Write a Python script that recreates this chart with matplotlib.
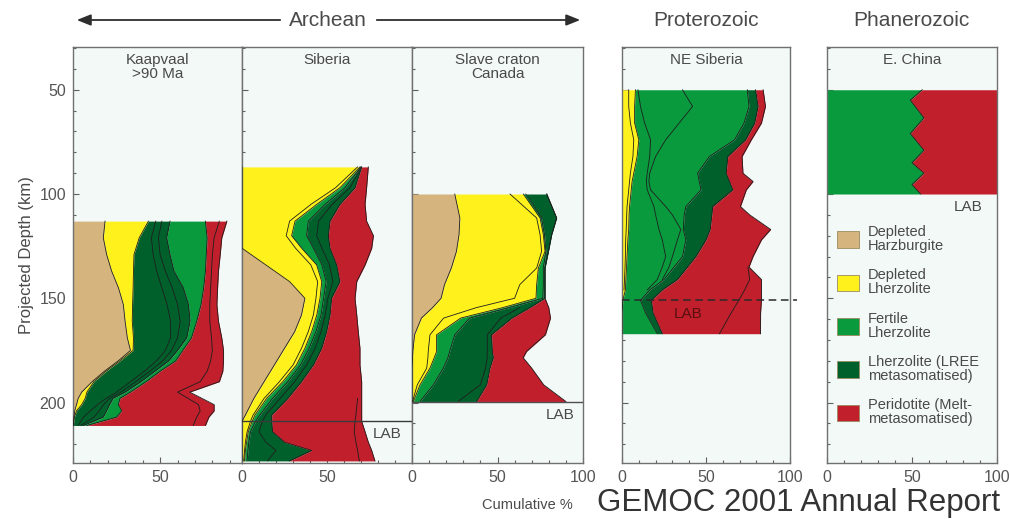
# %% importing modules
import numpy as np
import matplotlib.pyplot as plt
from matplotlib.patches import Patch, FancyArrowPatch
from matplotlib.ticker import MultipleLocator

plt.rcParams['font.family'] = ['Liberation Sans', 'DejaVu Sans']

# %% colours
c_harz = '#d5b57d'
c_dlhz = '#fff21c'
c_fert = '#0a9a3e'
c_lree = '#00602c'
c_melt = '#c01f2b'
c_face = '#f2f9f7'
c_ink = '#4a4a4a'
c_edge = '#1e1e1e'
nan = np.nan

# %% Kaapvaal >90 Ma (cumulative %, left to right: harz, dep. lherz, LREE, fertile, melt)
kv_depth = [113, 121, 129, 137, 145, 153, 161, 169, 175, 180, 185, 190, 195, 198, 201, 204, 207, 211]
kv_harz = [18.4, 17.4, 19.3, 22.2, 26.1, 28.9, 29.9, 31.2, 33, 26, 18, 11, 5, 3, 2, 1, 0.5, 0]
kv_dlhz = [43.3, 38, 35, 34.7, 34.5, 34.2, 34, 34.7, 34.5, 27, 19, 12, 8, 7, 5, 2, 0.8, 0.2]
kv_lree = [55.7, 53.8, 55.7, 58, 63.4, 66.3, 67.2, 65.3, 60, 55, 47, 39, 30, 23, 21, 19.3, 17.4, 6]
kv_fert = [76, 77, 76.5, 76, 75, 73.5, 71, 68, 63, 59, 50, 42, 33, 27, 26, 28, 25, 8]
kv_melt = [88.3, 85.4, 84.5, 83.5, 83, 82.6, 83.5, 85.4, 86.4, 86.4, 86, 84, 67, 74, 81, 81, 78, 76]
kv_lines = [
    [47.5, 45, 46, 48, 51, 54, 56, 56, 53, 48, 41, 33, 25, 19, 14, 10, 6, 3],
    [51, 49, 50, 53, 57, 60, 61.5, 60, 56.5, 51.5, 44, 36, 27.5, 21, 17.5, 15, 12, 4.5],
    [84, 81, 80, 79.5, 79, 78.5, 78.5, 79.5, 80, 79, 77, 73, 60, 66, 72, 73, 71, 69],
]

# %% Siberia (harz, dep. lherz, fertile, LREE, melt)
sb_depth = [87, 97, 105, 113, 120, 126, 134, 142, 150, 158, 166, 174, 182, 190, 198, 206, 209, 214, 219, 223, 228]
sb_harz = [0, 0, 0, 0, 0, 0, 14, 28, 37, 35, 31, 25, 19, 13, 7, 2, 0, 0, 0, 0, 0]
sb_dlhz = [69.4, 57.6, 43.9, 31.2, 29.2, 35.1, 43.9, 46.9, 45.9, 44, 41, 37, 32, 24, 14.5, 7.6, 6, 3.7, 2.7, 2, 1.5]
sb_fert = [70, 60.6, 48.8, 39, 38, 42, 47, 49.5, 48, 46.5, 43.5, 39.5, 34.5, 27, 18, 10.5, 8, 5, 4, 3.5, 3]
sb_lree = [70.4, 66.5, 57.6, 51.8, 50.8, 51.8, 55.7, 57.6, 52.7, 51.8, 49.8, 46.9, 42, 35, 27, 17.5, 17.5, 18, 25, 41, 28]
sb_melt = [74.3, 73.3, 72.4, 73.3, 77.3, 76.3, 72.4, 67.5, 66.5, 67.5, 68.4, 69.4, 69.4, 70.4, 70.4, 70.4, 70.4, 72.4, 74.3, 76.3, 78.2]
sb_lines = [
    [68, 55, 40.5, 28, 26, 31.5, 40.5, 44.5, 43.5, 42, 39, 35, 30, 22, 13, 6.5, 5, 3, 2, 1.5, 1],
    [70.2, 63.5, 53, 45, 44, 47, 51.5, 53.5, 50.5, 49, 46.5, 43, 38, 31, 22.5, 14, 12, 10, 14, 20, 15],
    [nan] * 14 + [68, 67, 66.5, 66, 67, 68, 69],
]
sb_lab = 209

# %% Slave craton, Canada (harz, dep. lherz, fertile, LREE, melt)
sl_depth = [100, 111.5, 119.5, 127.5, 135.5, 143.5, 150, 154.5, 159.5, 167.5, 175.5, 178.5, 183.5, 191.5, 199.5]
sl_harz = [25, 28, 27.5, 26, 23, 19, 17, 12, 5.5, 1.5, 0.5, 0.3, 0, 0, 0]
sl_dlhz = [65.1, 74.9, 76.8, 77.8, 73.9, 72.9, 72.5, 53, 28.5, 14.4, 14.4, 13, 10.5, 4.7, 0.8]
sl_fert = [66.5, 75.8, 77.5, 78.3, 76.8, 76.8, 76.5, 56.7, 33.7, 25, 22, 21, 18.3, 12.5, 4.7]
sl_lree = [78.8, 84.6, 81.7, 79.8, 77.8, 77.8, 77.8, 69, 58.5, 46.5, 47, 47.6, 45.6, 43.7, 37.8]
sl_melt = [78.8, 84.6, 81.7, 79.8, 77.8, 77.8, 77.8, 80, 81, 78, 67, 65, 70, 77, 90]
sl_lines = [
    [57.3, 72.9, 74.9, 75.8, 72.9, 63, 60, 37.6, 18.5, 10.5, 9.5, 9.3, 8.6, 3.1, 0.3],
    [nan] * 7 + [63, 52, 44, 44, 44, 43, 40, 27],
]
sl_lab = 199.6

# %% NE Siberia, Proterozoic (dep. lherz, fertile, LREE, melt)
ne_depth = [50, 58, 66, 74, 82, 90, 94, 98, 106, 110, 117, 122, 130, 135, 141, 146, 151, 157, 167]
ne_dlhz = [8, 7.5, 7.5, 10, 9, 7, 6, 5.5, 4.5, 4.2, 4, 3.5, 3, 2.7, 2.3, 2, 0.5, 0, 0]
ne_fert = [74.6, 75.6, 72.6, 67, 52, 45, 46, 47, 38, 37, 36.5, 38, 36, 31, 25, 16.5, 11, 14, 21]
ne_lree = [79.5, 81, 79, 73.6, 63, 62, 64, 66, 54, 53.5, 52.5, 50, 44, 39, 33, 24, 17.5, 18.5, 24]
ne_melt = [84, 85.4, 83, 77, 71.5, 72, 78, 74, 70.5, 76, 88.5, 83, 78, 75.6, 83, 83, 83, 82.5, 82.4]
ne_lines = [
    [36, 42, 34, 26, 20, 16.5, 16, 17, 26, 30, 35, 33, 30, 28, 24, nan, nan, nan, nan],
    [9.5, 11, 13.5, 17, 16.5, 15, 14.5, 15, 19, 20, 22, 24, 26, 24, 21, 15, nan, nan, nan],
    [4, 4, 5, 7, 6.5, 5, 4.5, 4, 3, 2.8, 2.5, 2.2, 2, 1.8, 1.5, 1.2, nan, nan, nan],
    [nan] * 13 + [75, 76, 73, 69.5, 65, 58],
]
ne_lab = 150.7

# %% E. China, Phanerozoic (fertile, melt)
ch_depth = [50, 55, 63.5, 71, 79, 85, 90, 95.5, 100]
ch_fert = [56, 49, 57, 49, 57, 50, 57, 50, 55]
ch_melt = [100, 100, 100, 100, 100, 100, 100, 100, 100]

legend_labels = ['Depleted\nHarzburgite', 'Depleted\nLherzolite', 'Fertile\nLherzolite',
                 'Lherzolite (LREE\nmetasomatised)', 'Peridotite (Melt-\nmetasomatised)']

# %% figure
W, H = 1010, 519
fig = plt.figure(figsize=(W / 100, H / 100), dpi=100)


def fx(px):
    return px / W


def fy(py):
    return 1 - py / H


def add_panel(x0, x1, xmax, title, xlabels, ylabels=False):
    ax = fig.add_axes([fx(x0), fy(463), (x1 - x0) / W, 416 / H])
    ax.set_xlim(0, xmax)
    ax.set_ylim(229, 29.5)
    ax.set_facecolor(c_face)
    for s in ax.spines.values():
        s.set_color('#707070')
        s.set_linewidth(1)
    ax.set_xticks([0, 50, 100][:len(xlabels)], xlabels)
    ax.xaxis.set_minor_locator(MultipleLocator(10))
    ax.yaxis.set_major_locator(MultipleLocator(50))
    ax.yaxis.set_minor_locator(MultipleLocator(10))
    ax.tick_params(which='both', direction='in', color='#606060', labelcolor='#555555',
                   labelsize=11.5, width=0.8, pad=5)
    ax.tick_params(which='major', length=4)
    ax.tick_params(which='minor', length=2.5)
    if not ylabels:
        ax.tick_params(axis='y', labelleft=False)
    ax.text(0.5, 0.985, title, transform=ax.transAxes, ha='center', va='top',
            fontsize=11, color=c_ink, linespacing=0.95)
    return ax


def draw_column(ax, depth, layers, lines):
    left = np.zeros(len(depth))
    for colour, right in layers:
        right = np.asarray(right, float)
        ax.fill_betweenx(depth, left, right, color=colour, lw=0, zorder=2)
        left = right
    for right in [r for _, r in layers] + lines:
        ax.plot(right, depth, color=c_edge, lw=0.6, zorder=3)


ax1 = add_panel(73, 242, 97, 'Kaapvaal\n>90 Ma', ['0', '50'], ylabels=True)
ax1.set_ylabel('Projected Depth (km)', fontsize=12, color=c_ink, labelpad=4)
draw_column(ax1, kv_depth, [(c_harz, kv_harz), (c_dlhz, kv_dlhz), (c_lree, kv_lree),
                            (c_fert, kv_fert), (c_melt, kv_melt)], kv_lines)

ax2 = add_panel(242, 412, 100, 'Siberia', ['0', '50'])
draw_column(ax2, sb_depth, [(c_harz, sb_harz), (c_dlhz, sb_dlhz), (c_fert, sb_fert),
                            (c_lree, sb_lree), (c_melt, sb_melt)], sb_lines)
ax2.axhline(sb_lab, color='#3a3a3a', lw=1, zorder=4)
ax2.text(85.3, 215, 'LAB', ha='center', va='center', fontsize=11, color=c_ink)

ax3 = add_panel(412, 583, 100, 'Slave craton\nCanada', ['0', '50', '100'])
draw_column(ax3, sl_depth, [(c_harz, sl_harz), (c_dlhz, sl_dlhz), (c_fert, sl_fert),
                            (c_lree, sl_lree), (c_melt, sl_melt)], sl_lines)
ax3.axhline(sl_lab, color='#505050', lw=1, zorder=4)
ax3.text(86.5, 206, 'LAB', ha='center', va='center', fontsize=11, color=c_ink)

ax4 = add_panel(622, 790, 99, 'NE Siberia', ['0', '50', '100'])
draw_column(ax4, ne_depth, [(c_dlhz, ne_dlhz), (c_fert, ne_fert), (c_lree, ne_lree),
                            (c_melt, ne_melt)], ne_lines)
ax4.plot([0, 104], [ne_lab, ne_lab], ls=(0, (5, 3)), color='#2a2a2a', lw=1.1,
         zorder=4, clip_on=False)
ax4.text(39.6, 157.4, 'LAB', ha='center', va='center', fontsize=11, color='#5a1010', zorder=5)

ax5 = add_panel(827, 997, 100, 'E. China', ['0', '50', '100'])
draw_column(ax5, ch_depth, [(c_fert, ch_fert), (c_melt, ch_melt)], [])
ax5.text(83, 106, 'LAB', ha='center', va='center', fontsize=11, color=c_ink)

handles = [Patch(facecolor=c, edgecolor='#9a8a60', lw=0.6)
           for c in [c_harz, c_dlhz, c_fert, c_lree, c_melt]]
leg = ax5.legend(handles, legend_labels, loc='upper left', bbox_to_anchor=(0.06, 0.572),
                 frameon=False, fontsize=10.5, handlelength=1.5, handleheight=1.4,
                 handletextpad=0.6, labelspacing=1.05, borderpad=0, borderaxespad=0)
for t in leg.get_texts():
    t.set_linespacing(1.0)
    t.set_color(c_ink)

# %% era headers
fig.text(fx(328), fy(20), 'Archean', ha='center', va='center', fontsize=15, color=c_ink)
fig.text(fx(706), fy(20), 'Proterozoic', ha='center', va='center', fontsize=15, color=c_ink)
fig.text(fx(911), fy(20), 'Phanerozoic', ha='center', va='center', fontsize=15, color=c_ink)
for x0, x1 in [(283, 74), (374, 583)]:
    fig.patches.append(FancyArrowPatch((fx(x0), fy(20)), (fx(x1), fy(20)),
                                       transform=fig.transFigure,
                                       arrowstyle='-|>,head_length=0.7,head_width=0.28',
                                       mutation_scale=12, color='#2e2e2e', lw=1.3))

fig.text(fx(527), fy(505), 'Cumulative %', ha='center', va='center', fontsize=10.5, color=c_ink)
fig.text(fx(597), fy(511), 'GEMOC 2001 Annual Report', ha='left', va='baseline',
         fontsize=22.5, color='#333333')

fig.savefig('out.png', dpi=100, facecolor='w')
